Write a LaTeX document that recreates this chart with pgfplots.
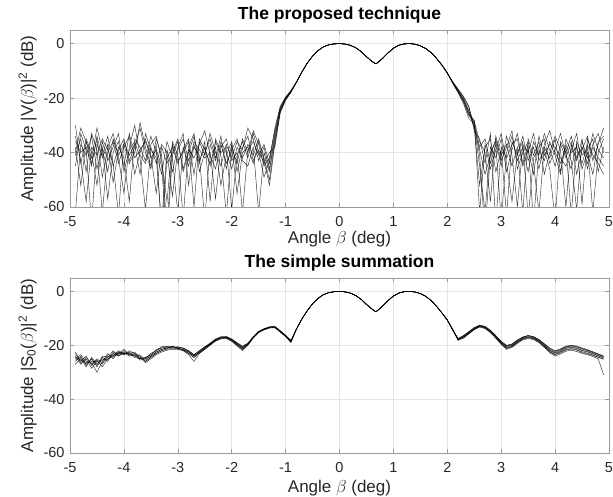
\documentclass[border=0pt]{standalone}
\usepackage{fontspec}
\setmainfont{Liberation Sans}
\usepackage{pgfplots}
\pgfplotsset{compat=1.18}
\usepackage{pgfplotstable}

% eight runs, proposed technique
\pgfplotstableread{
x a b c d e f g h
-4.9 -36 -41 -30 -45 -38 -62 -34 -40
-4.8 -40 -35 -44 -33 -52 -37 -43 -31
-4.7 -38 -47 -35 -39 -36 -41 -58 -36
-4.6 -45 -33 -40 -66 -42 -34 -38 -44
-4.5 -34 -39 -52 -37 -31 -46 -41 -35
-4.4 -42 -62 -36 -41 -39 -38 -35 -49
-4.3 -37 -40 -43 -34 -47 -57 -39 -38
-4.2 -51 -36 -38 -45 -35 -40 -44 -33
-4.1 -39 -44 -33 -38 -41 -36 -63 -42
-4.0 -35 -38 -47 -42 -37 -45 -36 -55
-3.9 -43 -34 -39 -58 -44 -33 -41 -38
-3.8 -38 -48 -36 -35 -40 -42 -37 -30
-3.7 -31 -40 -42 -38 -29 -39 -48 -41
-3.6 -40 -35 -61 -43 -38 -36 -33 -44
-3.5 -46 -42 -38 -34 -45 -41 -39 -37
-3.4 -37 -39 -44 -40 -35 -55 -42 -34
-3.3 -70 -45 -37 -48 -41 -38 -66 -43
-3.2 -42 -72 -40 -36 -68 -44 -39 -58
-3.1 -38 -41 -56 -42 -37 -40 -47 -36
-3.0 -44 -36 -39 -62 -43 -35 -38 -41
-2.9 -39 -47 -35 -38 -40 -46 -33 -64
-2.8 -35 -40 -43 -45 -36 -39 -52 -38
-2.7 -48 -34 -38 -36 -60 -42 -37 -33
-2.6 -36 -43 -41 -39 -35 -37 -44 -47
-2.5 -41 -38 -65 -42 -39 -32 -36 -40
-2.4 -33 -45 -37 -40 -44 -41 -58 -35
-2.3 -40 -36 -43 -57 -38 -46 -35 -42
-2.2 -45 -41 -36 -38 -52 -37 -40 -34
-2.1 -37 -63 -40 -35 -41 -44 -38 -46
-2.0 -42 -38 -46 -43 -36 -39 -61 -37
-1.9 -36 -44 -38 -40 -47 -35 -41 -55
-1.8 -39 -35 -42 -62 -38 -43 -36 -40
-1.7 -31 -40 -37 -39 -34 -45 -42 -38
-1.6 -35 -32 -41 -36 -43 -38 -33 -44
-1.5 -43 -37 -35 -41 -39 -62 -40 -36
-1.4 -38 -45 -42 -37 -44 -40 -49 -43
-1.3 -46 -42 -50 -44 -40 -47 -43 -52
-1.2 -34 -32 -36 -33 -38 -35 -31 -37
-1.1 -24.5 -23.5 -25 -24 -25.5 -24 -23 -25
-1.0 -20.3 -19.8 -20.5 -20 -20.8 -20.2 -19.6 -20.5
-0.9 -17.6 -17.3 -17.8 -17.5 -17.9 -17.5 -17.2 -17.7
-0.8 -14.2 -14.2 -14.2 -14.2 -14.2 -14.2 -14.2 -14.2
-0.7 -10.5 -10.5 -10.5 -10.5 -10.5 -10.5 -10.5 -10.5
-0.6 -7.2 -7.2 -7.2 -7.2 -7.2 -7.2 -7.2 -7.2
-0.5 -4.6 -4.6 -4.6 -4.6 -4.6 -4.6 -4.6 -4.6
-0.4 -2.6 -2.6 -2.6 -2.6 -2.6 -2.6 -2.6 -2.6
-0.3 -1.2 -1.2 -1.2 -1.2 -1.2 -1.2 -1.2 -1.2
-0.2 -0.45 -0.45 -0.45 -0.45 -0.45 -0.45 -0.45 -0.45
-0.1 -0.1 -0.1 -0.1 -0.1 -0.1 -0.1 -0.1 -0.1
0.0 0 0 0 0 0 0 0 0
0.1 -0.15 -0.15 -0.15 -0.15 -0.15 -0.15 -0.15 -0.15
0.2 -0.6 -0.6 -0.6 -0.6 -0.6 -0.6 -0.6 -0.6
0.3 -1.5 -1.5 -1.5 -1.5 -1.5 -1.5 -1.5 -1.5
0.4 -2.9 -2.9 -2.9 -2.9 -2.9 -2.9 -2.9 -2.9
0.5 -4.8 -4.8 -4.8 -4.8 -4.8 -4.8 -4.8 -4.8
0.6 -6.5 -6.5 -6.5 -6.5 -6.5 -6.5 -6.5 -6.5
0.67 -7.4 -7.4 -7.4 -7.4 -7.4 -7.4 -7.4 -7.4
0.7 -7.1 -7.1 -7.1 -7.1 -7.1 -7.1 -7.1 -7.1
0.8 -5.4 -5.4 -5.4 -5.4 -5.4 -5.4 -5.4 -5.4
0.9 -3.4 -3.4 -3.4 -3.4 -3.4 -3.4 -3.4 -3.4
1.0 -1.7 -1.7 -1.7 -1.7 -1.7 -1.7 -1.7 -1.7
1.1 -0.6 -0.6 -0.6 -0.6 -0.6 -0.6 -0.6 -0.6
1.2 -0.1 -0.1 -0.1 -0.1 -0.1 -0.1 -0.1 -0.1
1.3 0 0 0 0 0 0 0 0
1.4 -0.2 -0.2 -0.2 -0.2 -0.2 -0.2 -0.2 -0.2
1.5 -0.8 -0.8 -0.8 -0.8 -0.8 -0.8 -0.8 -0.8
1.6 -1.8 -1.8 -1.8 -1.8 -1.8 -1.8 -1.8 -1.8
1.7 -3.3 -3.3 -3.3 -3.3 -3.3 -3.3 -3.3 -3.3
1.8 -5.4 -5.4 -5.4 -5.4 -5.4 -5.4 -5.4 -5.4
1.9 -7.9 -7.9 -7.9 -7.9 -7.9 -7.9 -7.9 -7.9
2.0 -10.8 -10.8 -10.8 -10.8 -10.8 -10.8 -10.8 -10.8
2.1 -14.3 -14.1 -14.5 -14.2 -14.6 -14.0 -14.4 -14.3
2.2 -17.3 -16.8 -17.9 -17.1 -18.0 -16.7 -17.5 -17.4
2.3 -20.5 -19.6 -21.5 -20.2 -22.0 -19.4 -21.0 -20.8
2.4 -25 -23.5 -26.5 -24.5 -27.5 -23 -26 -25.5
2.5 -29 -30 -28.5 -31 -29.5 -32 -28 -30.5
2.6 -38 -45 -36 -52 -41 -35 -62 -39
2.7 -35 -62 -40 -38 -70 -44 -37 -48
2.8 -44 -38 -58 -35 -40 -33 -46 -41
2.9 -37 -42 -34 -47 -36 -66 -39 -35
3.0 -65 -35 -41 -39 -45 -38 -33 -43
3.1 -40 -47 -37 -63 -34 -42 -44 -38
3.2 -34 -39 -45 -36 -41 -37 -58 -32
3.3 -43 -33 -38 -41 -60 -35 -40 -46
3.4 -38 -44 -62 -34 -37 -45 -36 -40
3.5 -47 -37 -35 -43 -40 -39 -64 -36
3.6 -36 -66 -41 -38 -33 -48 -42 -44
3.7 -41 -39 -36 -46 -43 -34 -38 -62
3.8 -33 -43 -48 -37 -39 -41 -35 -38
3.9 -39 -36 -40 -32 -46 -37 -44 -42
4.0 -45 -41 -34 -40 -65 -38 -39 -35
4.1 -37 -48 -39 -44 -36 -42 -33 -47
4.2 -42 -35 -60 -38 -40 -45 -41 -37
4.3 -36 -40 -37 -63 -34 -39 -46 -43
4.4 -48 -38 -43 -36 -42 -33 -37 -61
4.5 -39 -44 -35 -41 -38 -46 -59 -36
4.6 -34 -37 -46 -39 -44 -40 -35 -42
4.7 -43 -62 -38 -35 -37 -48 -41 -33
4.8 -37 -40 -42 -47 -33 -36 -44 -39
4.9 -31 -35 -45 -38 -40 -34 -48 -42
}\topdata

% eight runs, simple summation
\pgfplotstableread{
x a b c d e f g h
-4.9 -23 -26 -24 -27 -25 -22.5 -25.5 -24.5
-4.8 -26.5 -24 -27 -25 -23.5 -26 -24.5 -25.5
-4.7 -24.5 -27.5 -25 -28 -26 -24 -27 -26.5
-4.6 -27 -25 -28.5 -24.5 -26.5 -27.5 -25 -26
-4.5 -25 -28 -26 -27 -30 -25.5 -27.5 -26
-4.4 -26.5 -24.5 -27 -25 -26 -28 -24 -25.5
-4.3 -23.5 -25.5 -24 -26 -23 -25 -24.5 -25
-4.2 -24 -22.5 -24.5 -23 -25 -23.5 -22 -24
-4.1 -22 -23.5 -23 -24 -22.5 -23 -24 -22.5
-4.0 -23.5 -22 -23 -22.5 -23.5 -21.5 -23 -22.8
-3.9 -22.5 -23.5 -22.8 -23.5 -22 -23.5 -23 -24
-3.8 -24 -23 -24.5 -23.5 -23 -24 -22.5 -23.5
-3.7 -25 -24 -25 -24.5 -25.5 -23.5 -24.5 -25
-3.6 -24.5 -26 -25 -26.5 -25 -25.5 -26 -24.5
-3.5 -23.5 -24.5 -24 -25 -23 -24 -24.5 -23.5
-3.4 -22 -23 -22.5 -23.5 -22 -22.5 -23 -21.5
-3.3 -21 -22 -21.5 -22.5 -20.5 -21.5 -22 -21
-3.2 -20.5 -21.5 -21 -21.8 -20.5 -21 -21.2 -20.8
-3.1 -20.5 -21 -20.5 -21.5 -20.8 -21 -20.3 -21
-3.0 -20.8 -21.3 -21 -21.5 -20.5 -21 -21.2 -20.8
-2.9 -21 -22 -21.5 -22 -21.2 -21.8 -21.5 -21
-2.8 -22 -23 -22.5 -23.5 -22 -22.5 -23 -22.3
-2.7 -23.5 -24.5 -24 -26 -23.5 -24 -24.5 -23.8
-2.6 -22 -23 -22.5 -23 -22 -22.8 -22.5 -22.3
-2.5 -20.5 -21.5 -21 -21.5 -20.8 -21 -21.3 -20.7
-2.4 -19.2 -19.8 -19.5 -20 -19.2 -19.6 -19.4 -19.8
-2.3 -17.8 -18.3 -18 -18.5 -17.6 -18 -18.2 -17.9
-2.2 -17 -17.5 -17.2 -17.6 -16.8 -17.3 -17.1 -17.4
-2.1 -16.8 -17.3 -17 -17.5 -16.7 -17.1 -17 -17.2
-2.0 -17.8 -18.4 -18 -18.5 -17.6 -18.1 -18.2 -17.9
-1.9 -19.2 -20 -19.5 -20.2 -19 -19.6 -19.8 -19.3
-1.8 -20.5 -21.5 -21 -22 -20.3 -21.2 -21.5 -20.8
-1.7 -19.3 -19.8 -19.5 -20 -19.2 -19.6 -19.7 -19.4
-1.6 -16.9 -17.2 -17 -17.3 -16.8 -17 -17.1 -17
-1.5 -14.9 -15.2 -15 -15.3 -14.8 -15 -15.1 -15
-1.4 -13.9 -14.2 -14 -14.3 -13.8 -14 -14.1 -14
-1.3 -13.2 -13.5 -13.3 -13.6 -13.1 -13.3 -13.4 -13.3
-1.2 -13 -13.4 -13.2 -13.5 -13 -13.2 -13.3 -13.1
-1.1 -14.6 -15 -14.8 -15.1 -14.6 -14.8 -14.9 -14.7
-1.0 -16.3 -16.7 -16.5 -16.8 -16.3 -16.5 -16.6 -16.4
-0.9 -18.2 -18.8 -18.5 -19 -18.2 -18.5 -18.7 -18.4
-0.8 -14 -14 -14 -14 -14 -14 -14 -14
-0.7 -10.3 -10.3 -10.3 -10.3 -10.3 -10.3 -10.3 -10.3
-0.6 -7.2 -7.2 -7.2 -7.2 -7.2 -7.2 -7.2 -7.2
-0.5 -4.6 -4.6 -4.6 -4.6 -4.6 -4.6 -4.6 -4.6
-0.4 -2.6 -2.6 -2.6 -2.6 -2.6 -2.6 -2.6 -2.6
-0.3 -1.2 -1.2 -1.2 -1.2 -1.2 -1.2 -1.2 -1.2
-0.2 -0.45 -0.45 -0.45 -0.45 -0.45 -0.45 -0.45 -0.45
-0.1 -0.1 -0.1 -0.1 -0.1 -0.1 -0.1 -0.1 -0.1
0.0 0 0 0 0 0 0 0 0
0.1 -0.15 -0.15 -0.15 -0.15 -0.15 -0.15 -0.15 -0.15
0.2 -0.6 -0.6 -0.6 -0.6 -0.6 -0.6 -0.6 -0.6
0.3 -1.5 -1.5 -1.5 -1.5 -1.5 -1.5 -1.5 -1.5
0.4 -2.9 -2.9 -2.9 -2.9 -2.9 -2.9 -2.9 -2.9
0.5 -4.8 -4.8 -4.8 -4.8 -4.8 -4.8 -4.8 -4.8
0.6 -6.5 -6.5 -6.5 -6.5 -6.5 -6.5 -6.5 -6.5
0.67 -7.5 -7.5 -7.5 -7.5 -7.5 -7.5 -7.5 -7.5
0.7 -7.2 -7.2 -7.2 -7.2 -7.2 -7.2 -7.2 -7.2
0.8 -5.4 -5.4 -5.4 -5.4 -5.4 -5.4 -5.4 -5.4
0.9 -3.4 -3.4 -3.4 -3.4 -3.4 -3.4 -3.4 -3.4
1.0 -1.7 -1.7 -1.7 -1.7 -1.7 -1.7 -1.7 -1.7
1.1 -0.6 -0.6 -0.6 -0.6 -0.6 -0.6 -0.6 -0.6
1.2 -0.1 -0.1 -0.1 -0.1 -0.1 -0.1 -0.1 -0.1
1.3 0 0 0 0 0 0 0 0
1.4 -0.2 -0.2 -0.2 -0.2 -0.2 -0.2 -0.2 -0.2
1.5 -0.8 -0.8 -0.8 -0.8 -0.8 -0.8 -0.8 -0.8
1.6 -1.8 -1.8 -1.8 -1.8 -1.8 -1.8 -1.8 -1.8
1.7 -3.4 -3.4 -3.4 -3.4 -3.4 -3.4 -3.4 -3.4
1.8 -5.5 -5.5 -5.5 -5.5 -5.5 -5.5 -5.5 -5.5
1.9 -8.0 -8.0 -8.0 -8.0 -8.0 -8.0 -8.0 -8.0
2.0 -10.6 -10.6 -10.6 -10.6 -10.6 -10.6 -10.6 -10.6
2.1 -14.2 -14.1 -14.3 -14.2 -14.4 -14.0 -14.2 -14.3
2.2 -17.5 -18 -17.8 -18.2 -17.5 -17.8 -18 -17.6
2.3 -16.3 -17.2 -16.8 -17.4 -16.5 -16.9 -17 -16.6
2.4 -15 -15.6 -15.3 -15.8 -14.9 -15.4 -15.5 -15.1
2.5 -13.5 -14.1 -13.8 -14.2 -13.4 -13.9 -14 -13.6
2.6 -12.6 -13.1 -12.8 -13.2 -12.5 -12.9 -13 -12.7
2.7 -13 -13.6 -13.3 -13.8 -13 -13.4 -13.5 -13.1
2.8 -14.5 -15.1 -14.8 -15.3 -14.4 -14.9 -15 -14.6
2.9 -16.5 -17.2 -16.8 -17.4 -16.4 -16.9 -17 -16.6
3.0 -18.6 -19.4 -19 -19.7 -18.5 -19.1 -19.3 -18.8
3.1 -20 -21.2 -20.5 -21.5 -20.2 -20.8 -21 -20.3
3.2 -19.5 -20.5 -20 -20.8 -19.6 -20.2 -20.4 -19.8
3.3 -18 -19 -18.5 -19.3 -18.1 -18.7 -18.9 -18.3
3.4 -17 -17.8 -17.3 -18 -16.9 -17.4 -17.6 -17.1
3.5 -16.3 -17.2 -16.8 -17.5 -16.4 -16.9 -17.1 -16.5
3.6 -16.8 -17.6 -17.2 -17.9 -16.8 -17.3 -17.5 -17
3.7 -17.8 -18.8 -18.3 -19 -17.9 -18.5 -18.6 -18.1
3.8 -19.5 -20.6 -20 -20.8 -19.4 -20.2 -20.4 -19.7
3.9 -21 -22.5 -21.8 -22.8 -21.2 -22 -22.3 -21.5
4.0 -22 -23.5 -22.8 -24 -22.2 -23 -23.4 -22.5
4.1 -21.3 -22.8 -22 -23.2 -21.5 -22.3 -22.5 -21.7
4.2 -20.3 -21.8 -21 -22.2 -20.5 -21.2 -21.6 -20.7
4.3 -20 -21.4 -20.6 -21.8 -20.1 -20.8 -21.2 -20.3
4.4 -20.3 -21.8 -21 -22.3 -20.5 -21.2 -21.6 -20.6
4.5 -21 -22.7 -21.8 -23 -21.2 -22 -22.4 -21.4
4.6 -21.6 -23.2 -22.3 -23.5 -21.8 -22.5 -22.9 -22
4.7 -22.4 -23.8 -23 -24.2 -22.5 -23.2 -23.6 -22.7
4.8 -23.2 -24.5 -23.8 -25 -23.3 -24 -24.4 -23.5
4.9 -24 -25.2 -24.5 -31 -24 -24.7 -25 -24.2
}\sumdata

\pgfplotsset{
  beam/.style={
    scale only axis, width=539pt,
    xmin=-5, xmax=5, ymin=-60, ymax=5,
    xtick={-5,-4,...,5}, ytick={-60,-40,-20,0},
    grid=major, major grid style={black!10, line width=0.5pt},
    axis line style={black!40, line width=0.5pt},
    tick align=inside, major tick length=4pt,
    tick style={black!40, line width=0.5pt},
    /pgf/number format/assume math mode=true,
    ticklabel style={font=\fontsize{14.5}{16}\selectfont, text=black!85},
    xticklabel style={anchor=base, yshift=-20pt},
    yticklabel style={anchor=east, xshift=-2pt},
    label style={font=\fontsize{17}{19}\selectfont, text=black!85},
    title style={font=\bfseries\fontsize{17.5}{19}\selectfont,
      at={(axis description cs:0.5,1.025)}, anchor=base},
  },
  run/.style={black, line width=0.45pt, opacity=0.8},
}

\begin{document}
\begin{tikzpicture}
\useasboundingbox (0,0) rectangle (613pt,497pt);

\begin{axis}[beam, at={(70pt,290pt)}, anchor=south west, height=177pt,
    title={The proposed technique},
    xlabel={Angle $\beta$ (deg)},
    ylabel={Amplitude |V($\beta$)|\textsuperscript{2} (dB)},
    xlabel style={at={(axis description cs:0.5,-0.206)}, anchor=base},
    ylabel style={at={(axis description cs:-0.0686,0.5)}, anchor=base},
]
\pgfplotsinvokeforeach{a,b,c,d,e,f,g,h}{
  \addplot[run] table[x=x, y=#1] {\topdata};
}
\end{axis}

\begin{axis}[beam, at={(70pt,44pt)}, anchor=south west, height=175pt,
    title={The simple summation},
    xlabel={Angle $\beta$ (deg)},
    ylabel={Amplitude |S\textsubscript{0}($\beta$)|\textsuperscript{2} (dB)},
    xlabel style={at={(axis description cs:0.5,-0.226)}, anchor=base},
    ylabel style={at={(axis description cs:-0.0686,0.5)}, anchor=base},
]
\pgfplotsinvokeforeach{a,b,c,d,e,f,g,h}{
  \addplot[run] table[x=x, y=#1] {\sumdata};
}
\end{axis}
\end{tikzpicture}
\end{document}
